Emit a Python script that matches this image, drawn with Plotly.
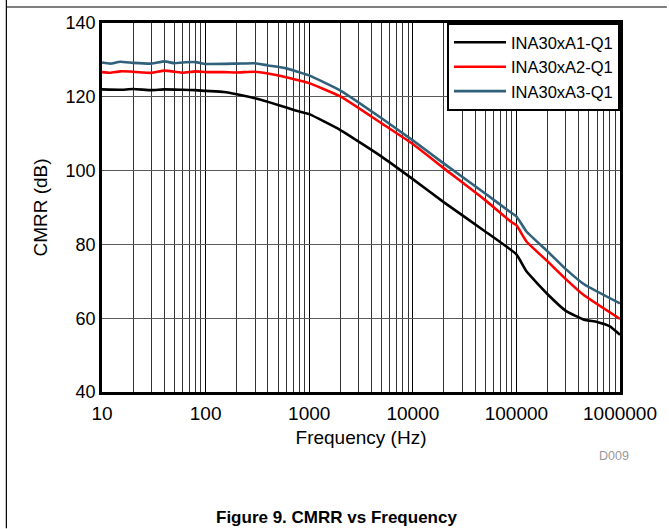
import plotly.graph_objects as go

# Data
freq_a1 = [10, 15, 20, 30, 40, 60, 80, 100, 150, 200, 300, 500, 700, 1000, 2000, 5000,
           10000, 20000, 50000, 100000, 125000, 200000, 300000, 450000, 600000,
           800000, 1000000]
cmrr_a1 = [122.0, 121.9, 122.1, 121.8, 122.0, 121.9, 121.8, 121.6, 121.3, 120.7, 119.6,
           117.8, 116.5, 115.3, 111.0, 103.8, 97.7, 91.4, 83.5, 77.3, 72.7, 66.5,
           62.0, 59.6, 59.0, 57.8, 55.5]

freq_a2 = [10, 12, 15, 20, 25, 30, 40, 50, 60, 80, 100, 150, 200, 300, 400, 600, 900,
           1000, 2000, 5000, 10000, 20000, 50000, 90000, 100000, 125000, 200000, 300000,
           450000, 1000000]
cmrr_a2 = [126.7, 126.5, 126.9, 126.8, 126.6, 126.5, 127.1, 126.8, 126.5, 126.9, 126.7,
           126.7, 126.6, 126.8, 126.3, 125.3, 124.1, 123.7, 120.1, 112.8, 107.2, 100.6,
           92.0, 86.0, 85.2, 80.8, 75.4, 70.6, 66.2, 59.8]

freq_a3 = [10, 12, 15, 20, 30, 40, 50, 60, 80, 100, 200, 300, 400, 600, 900, 1000, 2000,
           5000, 10000, 20000, 50000, 90000, 100000, 125000, 200000, 300000, 450000,
           1000000]
cmrr_a3 = [129.3, 129.0, 129.5, 129.2, 129.0, 129.6, 129.1, 129.3, 129.4, 128.9, 129.0,
           129.1, 128.5, 127.7, 126.2, 125.8, 121.7, 114.2, 108.2, 101.9, 93.8, 88.5,
           87.6, 83.5, 78.1, 73.3, 69.2, 64.0]

series_names = ["INA30xA1-Q1", "INA30xA2-Q1", "INA30xA3-Q1"]
series_colors = ["#000000", "#FF0000", "#31607A"]

x_tickvals = [10, 100, 1000, 10000, 100000, 1000000]
x_ticktext = ["10", "100", "1000", "10000", "100000", "1000000"]
x_minorvals = [m * 10 ** d for d in range(1, 6) for m in range(2, 10)]
y_tickvals = [40, 60, 80, 100, 120, 140]

FONT = "Arial, Liberation Sans, sans-serif"

fig = go.Figure()
for fx, fy, name, color in zip([freq_a1, freq_a2, freq_a3], [cmrr_a1, cmrr_a2, cmrr_a3],
                               series_names, series_colors):
    fig.add_trace(go.Scatter(x=fx, y=fy, mode="lines", name=name,
                             line=dict(color=color, width=2.6, shape="spline", smoothing=0.4)))

# plot-area geometry in pixels
W, H = 669, 529
L, R, T, B = 102, 47, 23, 136.5
pw, ph = W - L - R, H - T - B

def px_x(p):
    return (p - L) / pw

def px_y(p):
    return (H - B - p) / ph

fig.update_layout(
    width=W, height=H,
    margin=dict(l=L, r=R, t=T, b=B),
    paper_bgcolor="white", plot_bgcolor="white",
    font=dict(family=FONT, size=19, color="#000000"),
    showlegend=True,
    legend=dict(x=1, xanchor="right", y=1, yanchor="top",
                bgcolor="white", bordercolor="#000000", borderwidth=2,
                font=dict(size=16.5, family=FONT), tracegroupgap=0,
                itemwidth=52),
    xaxis=dict(type="log", range=[1, 6], tickvals=x_tickvals, ticktext=x_ticktext,
               showgrid=True, gridcolor="#000000", gridwidth=1.2,
               minor=dict(tickvals=x_minorvals, showgrid=True, gridcolor="#333333",
                          gridwidth=1, ticklen=0),
               showline=True, linecolor="#000000", linewidth=2.5, mirror=True,
               ticks="", zeroline=False, ticklabelstandoff=2,
               title=dict(text="Frequency (Hz)", font=dict(size=19), standoff=9),
               tickfont=dict(size=19)),
    yaxis=dict(range=[40, 140], tickvals=y_tickvals,
               showgrid=True, gridcolor="#5a5a5a", gridwidth=1.4,
               showline=True, linecolor="#000000", linewidth=2.5, mirror=True,
               ticks="", zeroline=False,
               title=dict(text="CMRR (dB)", font=dict(size=19), standoff=13),
               tickfont=dict(size=18)),
    shapes=[
        dict(type="line", xref="paper", yref="paper", x0=px_x(6), x1=px_x(6),
             y0=px_y(0), y1=px_y(H), line=dict(color="#000000", width=1.2)),
        dict(type="line", xref="paper", yref="paper", x0=px_x(6), x1=px_x(W),
             y0=px_y(7), y1=px_y(7), line=dict(color="#000000", width=1.2)),
    ],
    annotations=[
        dict(text="D009", xref="paper", yref="paper", x=px_x(633), y=px_y(457),
             xanchor="right", yanchor="middle", showarrow=False,
             font=dict(size=12.5, color="#999999", family=FONT)),
        dict(text="<b>Figure 9. CMRR vs Frequency</b>", xref="paper", yref="paper",
             x=px_x(337), y=px_y(518), xanchor="center", yanchor="middle",
             showarrow=False, font=dict(size=17, color="#000000", family=FONT)),
    ],
)

fig.write_html("out.html")
